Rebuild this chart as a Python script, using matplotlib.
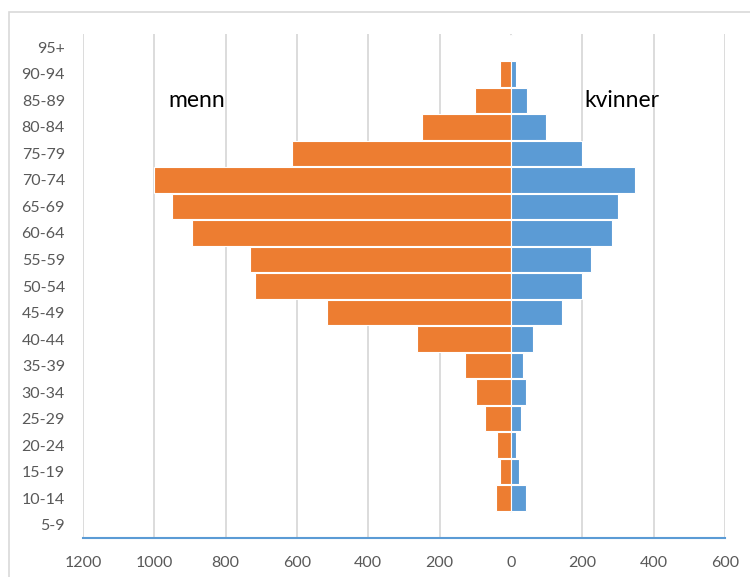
import matplotlib
matplotlib.use("Agg")
import matplotlib.pyplot as plt
import matplotlib.patches as patches

ages = ['5-9', '10-14', '15-19', '20-24', '25-29', '30-34', '35-39', '40-44', '45-49',
        '50-54', '55-59', '60-64', '65-69', '70-74', '75-79', '80-84', '85-89', '90-94', '95+']
menn = [3, 43, 31, 39, 74, 97, 128, 263, 516, 718, 731, 894, 951, 1000, 615, 250, 100, 30, 2]
kvinner = [3, 42, 23, 15, 27, 42, 35, 62, 142, 200, 225, 283, 300, 349, 200, 98, 45, 15, 3]
xticks = [-1200, -1000, -800, -600, -400, -200, 0, 200, 400, 600]

plt.rcParams['font.family'] = ['Lato', 'DejaVu Sans']

fig = plt.figure(figsize=(7.5, 5.77), dpi=100)
ax = fig.add_axes([83/750, 1 - 538/577, (725 - 83)/750, (538 - 34)/577])

# chart border (cropped Excel chart)
fig.patches.append(patches.Rectangle((9/750, -0.1), 1.1, 1 - 12/577 + 0.1,
                                     transform=fig.transFigure, fill=False,
                                     edgecolor='#D9D9D9', lw=1.2))

pos = range(len(ages))
ax.barh(pos, [-m for m in menn], height=0.96, color='#ED7D31', edgecolor='white', lw=0.8, zorder=3)
ax.barh(pos, kvinner, height=0.96, color='#5B9BD5', edgecolor='white', lw=0.8, zorder=3)

ax.set_xlim(-1200, 600)
ax.set_ylim(-0.5, len(ages) - 0.5)
ax.set_xticks(xticks)
ax.set_xticklabels([str(abs(v)) for v in xticks])
ax.set_yticks(list(pos))
ax.set_yticklabels(ages)
ax.tick_params(axis='both', length=0, labelsize=11.5, colors='#595959')
ax.tick_params(axis='y', pad=13)
ax.tick_params(axis='x', pad=13)

ax.grid(axis='x', color='#D9D9D9', lw=1.3, zorder=0)
for s in ['top', 'right', 'left']:
    ax.spines[s].set_visible(False)
ax.spines['bottom'].set_color('#5B9BD5')
ax.spines['bottom'].set_linewidth(1.5)
ax.spines['bottom'].set_zorder(4)

ax.text(-960, 16, 'menn', fontsize=16.5, color='black', va='center', ha='left')
ax.text(205, 16, 'kvinner', fontsize=16.5, color='black', va='center', ha='left')

fig.savefig('out.png', dpi=100)
